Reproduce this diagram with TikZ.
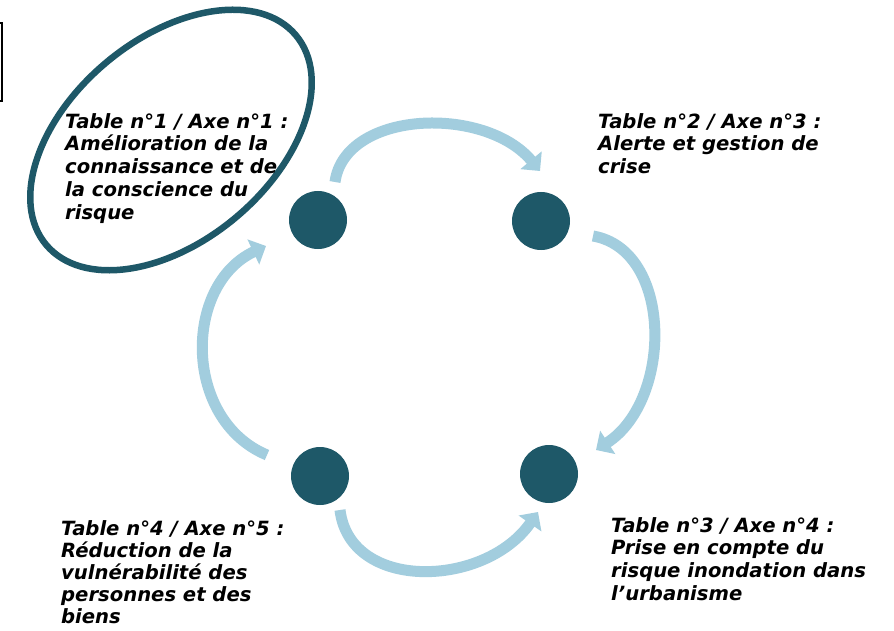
\documentclass[tikz,border=0pt]{standalone}
\usepackage{fontspec}
\setmainfont{DejaVu Sans}
\usetikzlibrary{arrows.meta}
\definecolor{teal1}{RGB}{30,88,104}
\definecolor{arrowblue}{RGB}{162,205,222}
\tikzset{
  dot/.style={circle,fill=teal1,minimum size=58pt,inner sep=0pt},
  lbl/.style={anchor=north west,inner sep=0pt,align=left,font=\fontsize{19.6}{22.8}\selectfont\bfseries\itshape},
  arc/.style={draw=arrowblue,line width=11pt,-{Triangle[length=14pt,width=27pt]}}
}
\begin{document}
\begin{tikzpicture}[x=1pt,y=-1pt]
\useasboundingbox (0,0) rectangle (894,631);
\fill[white] (0,0) rectangle (894,631);
% partial box at left edge
\draw[line width=2pt] (-10,23) -- (2,23) -- (2,101) -- (-10,101);
% ellipse
\draw[teal1,line width=6.5pt] (171,140) ellipse[x radius=163pt,y radius=101pt,rotate=40];
% dots
\node[dot] (tl) at (318,220) {};
\node[dot] (tr) at (541,221) {};
\node[dot] (bl) at (320,476) {};
\node[dot] (br) at (549,474) {};
% arrow end points
\coordinate (a1s) at (335,182);
\coordinate (a1e) at (540,171);
\coordinate (a2s) at (593,236);
\coordinate (a2e) at (596,450);
\coordinate (a3s) at (340,510);
\coordinate (a3e) at (538,512);
\coordinate (a4s) at (267,455);
\coordinate (a4e) at (266,246);
\draw[arc] (a1s) .. controls (345,110) and (485,105) .. (a1e);
\draw[arc] (a2s) .. controls (673,250) and (673,400) .. (a2e);
\draw[arc] (a3s) .. controls (350,592) and (485,588) .. (a3e);
\draw[arc] (a4s) .. controls (183,420) and (183,285) .. (a4e);
% labels
\node[lbl] (t1) at (65,113) {Table n°1 / Axe n°1 :\\Amélioration de la\\connaissance et de\\la conscience du\\risque};
\node[lbl] (t2) at (598,113) {Table n°2 / Axe n°3 :\\Alerte et gestion de\\crise};
\node[lbl,font=\fontsize{19.6}{22.2}\selectfont\bfseries\itshape] (t4) at (61,520) {Table n°4 / Axe n°5 :\\Réduction de la\\vulnérabilité des\\personnes et des\\biens};
\node[lbl] (t3) at (611,517) {Table n°3 / Axe n°4 :\\Prise en compte du\\risque inondation dans\\l’urbanisme};
\end{tikzpicture}
\end{document}
